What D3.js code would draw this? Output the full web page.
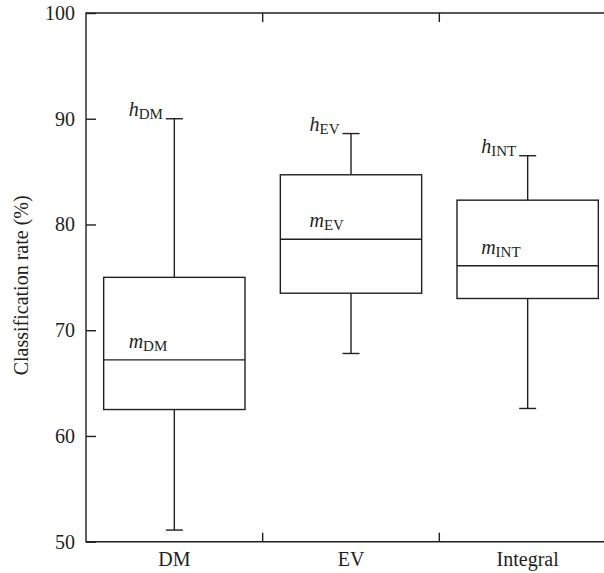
<!DOCTYPE html>
<html>
<head>
<meta charset="utf-8">
<script src="https://cdn.jsdelivr.net/npm/d3@7"></script>
<style>
  body { margin: 0; background: #fff; overflow: hidden; }
  svg { display: block; }
  text { font-family: 'Liberation Serif', 'Times New Roman', serif; fill: #231f20; }
</style>
</head>
<body>
<div id="chart"></div>
<script>
const categories = ['DM', 'EV', 'Integral']
const subscripts = ['DM', 'EV', 'INT']
const lowWhisker = [51.1, 67.8, 62.6]
const q1 = [62.5, 73.5, 73.0]
const median = [67.2, 78.6, 76.1]
const q3 = [75.0, 84.7, 82.3]
const highWhisker = [90.0, 88.6, 86.5]
const yTicks = [50, 60, 70, 80, 90, 100]

const width = 604
const height = 573
const ink = '#231f20'
const fontSize = 20
const serif = "'Liberation Serif', 'Times New Roman', serif"

// plot frame (right edge runs off the picture, as in the original)
const plotLeft = 86
const plotRight = 616
const plotTop = 13
const plotBottom = 541.7

const svg = d3.select('#chart')
  .append('svg')
  .attr('width', width)
  .attr('height', height)

const x = d3.scaleBand()
  .domain(categories)
  .range([plotLeft, plotRight])
  .padding(0)

const y = d3.scaleLinear()
  .domain([50, 100])
  .range([plotBottom, plotTop])

const boxes = categories.map((c, i) => ({
  name: c,
  sub: subscripts[i],
  lo: lowWhisker[i],
  q1: q1[i],
  med: median[i],
  q3: q3[i],
  hi: highWhisker[i]
}))

// frame: top, left, bottom (the right side is cut off)
svg.append('path')
  .attr('d', 'M' + width + ',' + plotTop + 'H' + plotLeft + 'V' + plotBottom + 'H' + width)
  .attr('fill', 'none')
  .attr('stroke', ink)
  .attr('stroke-width', 1.4)

// y axis, ticks pointing inward
const yAxis = svg.append('g')
  .attr('transform', 'translate(' + plotLeft + ',0)')
  .call(d3.axisLeft(y).tickValues(yTicks).tickSize(-10).tickSizeOuter(0).tickPadding(11))
  .attr('font-family', serif)
  .attr('font-size', fontSize)
yAxis.select('.domain').remove()
yAxis.selectAll('line').attr('stroke', ink).attr('stroke-width', 1.4)
yAxis.selectAll('text').attr('fill', ink)

// x axis labels at band centres
const xAxis = svg.append('g')
  .attr('transform', 'translate(0,' + plotBottom + ')')
  .call(d3.axisBottom(x).tickSize(0).tickPadding(10))
  .attr('font-family', serif)
  .attr('font-size', fontSize)
xAxis.select('.domain').remove()
xAxis.selectAll('text').attr('fill', ink)

// separator ticks between categories, top and bottom, inward
const seps = categories.slice(1)
svg.selectAll('.sepBottom')
  .data(seps)
  .enter()
  .append('line')
  .attr('x1', d => x(d))
  .attr('x2', d => x(d))
  .attr('y1', plotBottom)
  .attr('y2', plotBottom - 9)
  .attr('stroke', ink)
  .attr('stroke-width', 1.4)
svg.selectAll('.sepTop')
  .data(seps)
  .enter()
  .append('line')
  .attr('x1', d => x(d))
  .attr('x2', d => x(d))
  .attr('y1', plotTop)
  .attr('y2', plotTop + 9)
  .attr('stroke', ink)
  .attr('stroke-width', 1.4)

// y axis title
svg.append('text')
  .attr('transform', 'translate(28,' + ((plotTop + plotBottom) / 2 + 8) + ') rotate(-90)')
  .attr('text-anchor', 'middle')
  .style('font-size', fontSize + 'px')
  .text('Classification rate (%)')

const boxW = x.bandwidth() * 0.8
const capW = 17

const g = svg.selectAll('.box')
  .data(boxes)
  .enter()
  .append('g')
  .attr('class', 'box')
  .attr('transform', d => 'translate(' + (x(d.name) + x.bandwidth() / 2) + ',0)')

// whiskers
g.append('line')
  .attr('x1', 0).attr('x2', 0)
  .attr('y1', d => y(d.hi)).attr('y2', d => y(d.q3))
  .attr('stroke', ink).attr('stroke-width', 1.4)
g.append('line')
  .attr('x1', 0).attr('x2', 0)
  .attr('y1', d => y(d.q1)).attr('y2', d => y(d.lo))
  .attr('stroke', ink).attr('stroke-width', 1.4)
g.append('line')
  .attr('x1', -capW / 2).attr('x2', capW / 2)
  .attr('y1', d => y(d.hi)).attr('y2', d => y(d.hi))
  .attr('stroke', ink).attr('stroke-width', 1.4)
g.append('line')
  .attr('x1', -capW / 2).attr('x2', capW / 2)
  .attr('y1', d => y(d.lo)).attr('y2', d => y(d.lo))
  .attr('stroke', ink).attr('stroke-width', 1.4)

// box and median
g.append('rect')
  .attr('x', -boxW / 2)
  .attr('width', boxW)
  .attr('y', d => y(d.q3))
  .attr('height', d => y(d.q1) - y(d.q3))
  .attr('fill', 'none')
  .attr('stroke', ink)
  .attr('stroke-width', 1.4)
g.append('line')
  .attr('x1', -boxW / 2).attr('x2', boxW / 2)
  .attr('y1', d => y(d.med)).attr('y2', d => y(d.med))
  .attr('stroke', ink).attr('stroke-width', 1.4)

// h labels, right-aligned against the upper cap
const hLabel = g.append('text')
  .attr('x', -capW / 2 - 3)
  .attr('y', d => y(d.hi) - 2.5)
  .attr('text-anchor', 'end')
  .style('font-size', fontSize + 'px')
hLabel.append('tspan').style('font-style', 'italic').text('h')
hLabel.append('tspan')
  .attr('dy', 3)
  .style('font-size', (fontSize * 0.75) + 'px')
  .text(d => d.sub)

// m labels start where the h label starts
g.each(function (d) {
  const grp = d3.select(this)
  const start = grp.select('text').node().getBBox().x
  const t = grp.append('text')
    .attr('x', start)
    .attr('y', y(d.med) - 12)
    .style('font-size', fontSize + 'px')
  t.append('tspan').style('font-style', 'italic').text('m')
  t.append('tspan')
    .attr('dy', 3)
    .style('font-size', (fontSize * 0.75) + 'px')
    .text(d.sub)
})
</script>
</body>
</html>
